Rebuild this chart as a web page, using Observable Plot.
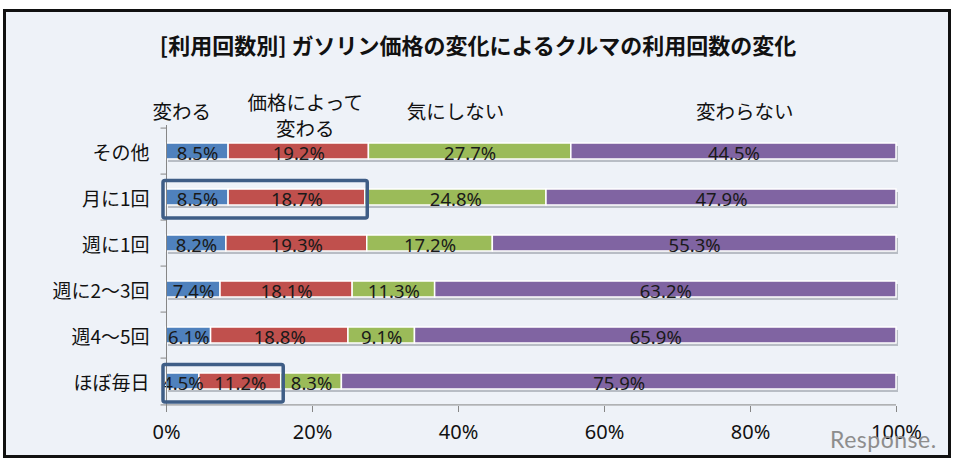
<!DOCTYPE html>
<html><head><meta charset="utf-8">
<script src="https://cdn.jsdelivr.net/npm/d3@7"></script>
<script src="https://cdn.jsdelivr.net/npm/@observablehq/plot@0.6"></script>
<style>
html,body{margin:0;padding:0;background:#fff;}
#wrap{position:relative;width:956px;height:462px;overflow:hidden;}
#frame{position:absolute;left:3px;top:9px;width:948px;height:449px;box-sizing:border-box;border:3px solid #111;background:#eef2f8;}
#title{position:absolute;left:0;top:29px;width:956px;text-align:center;font-family:"Noto Sans CJK JP",sans-serif;font-weight:bold;font-size:22px;color:#111;line-height:30px;}
#chart{position:absolute;left:0;top:0;}
#wm{position:absolute;left:830px;top:425px;font-family:Lato,sans-serif;font-size:23px;color:#8d8d8d;letter-spacing:0.5px;}
</style></head>
<body>
<div id="wrap">
  <div id="frame"></div>
  <div id="chart"></div>
  <div id="title">[利用回数別] ガソリン価格の変化によるクルマの利用回数の変化</div>
  <div id="wm">Response.</div>
</div>
<script>
const categories = ["その他", "月に1回", "週に1回", "週に2～3回", "週4～5回", "ほぼ毎日"];
const seriesNames = ["変わる", "価格によって変わる", "気にしない", "変わらない"];
const headerLabels = ["変わる", "価格によって\n変わる", "気にしない", "変わらない"];
const kawaru     = [8.5, 8.5, 8.2, 7.4, 6.1, 4.5];
const kakaku     = [19.2, 18.7, 19.3, 18.1, 18.8, 11.2];
const kiniShinai = [27.7, 24.8, 17.2, 11.3, 9.1, 8.3];
const kawaranai  = [44.5, 47.9, 55.3, 63.2, 65.9, 75.9];
const highlighted = ["月に1回", "ほぼ毎日"];
const tickValues = [0, 0.2, 0.4, 0.6, 0.8, 1];

// layout / style (not data)
const colors = ["#4f81bd", "#c0504d", "#9bbb59", "#8064a2"];
const headerX = [0.021, 0.19, 0.396, 0.792];
const band = (406 - 125) / 6;
const FONT_JP = "Noto Sans CJK JP, sans-serif";
const FONT_NUM = "Noto Sans, sans-serif";

const seriesVals = [kawaru, kakaku, kiniShinai, kawaranai];
const rows = categories.flatMap((c, i) => seriesNames.map((s, j) => ({cat: c, series: s, value: seriesVals[j][i]})));
const totals = categories.map((c, i) => seriesVals.reduce((a, v) => a + v[i], 0));
const boxes = highlighted.map(c => {
  const i = categories.indexOf(c);
  return {cat: c, end: (kawaru[i] + kakaku[i]) / totals[i]};
});
const singleHeaders = headerLabels.map((t, i) => ({t, x: headerX[i]})).filter(d => !d.t.includes("\n"));
const multiHeaders = headerLabels.map((t, i) => ({t, x: headerX[i]})).filter(d => d.t.includes("\n"));

const chart = Plot.plot({
  width: 956,
  height: 462,
  marginLeft: 166,
  marginRight: 60,
  marginTop: 125,
  marginBottom: 56,
  style: {background: "transparent", color: "#111"},
  x: {domain: [0, 1]},
  y: {domain: categories, padding: 0},
  color: {domain: seriesNames, range: colors},
  marks: [
    // shadows
    Plot.barX(categories, {y: d => d, x1: 0, x2: 1, fill: "#8d929b", fillOpacity: 0.55, insetTop: 15, insetBottom: 15, dx: 2, dy: 3}),
    // stacked bars
    Plot.barX(rows, Plot.stackX({x: "value", y: "cat", fill: "series", offset: "normalize", stroke: "white", strokeWidth: 1.5, insetTop: 15, insetBottom: 15})),
    // value labels
    Plot.text(rows, Plot.stackX({x: "value", y: "cat", z: "series", offset: "normalize", text: d => d.value.toFixed(1) + "%", fontSize: 18.5, fontFamily: FONT_NUM, fill: "#1a1a1a", dy: 2.5})),
    // y axis line
    Plot.ruleX([0], {stroke: "#868686", strokeWidth: 1}),
    // y ticks at band boundaries
    Plot.ruleY(categories, {y: d => d, x1: -0.0075, x2: 0, dy: -band / 2, stroke: "#868686"}),
    // x axis line
    Plot.ruleY([categories[categories.length - 1]], {y: d => d, x1: -0.0075, x2: 1, dy: band / 2, stroke: "#868686"}),
    Plot.axisX({ticks: tickValues, tickFormat: d => Math.round(d * 100) + "%", tickSize: 6, tickPadding: 12, fontSize: 20, fontFamily: FONT_NUM, stroke: "#868686", fill: "#111", label: null}),
    Plot.axisY({tickSize: 0, tickPadding: 17, fontSize: 19, fontFamily: FONT_JP, fill: "#111", dy: 2, label: null}),
    // highlight boxes
    Plot.barX(boxes, {y: "cat", x1: 0, x2: "end", fill: "none", stroke: "#3e5d86", strokeWidth: 3.5, rx: 2, insetTop: 6.5, insetBottom: 2, insetLeft: -3, insetRight: -2.5}),
    // headers
    Plot.text(singleHeaders, {x: "x", text: "t", frameAnchor: "top", lineAnchor: "middle", dy: -13, fontSize: 19.5, fontFamily: FONT_JP, fill: "#111"}),
    Plot.text(multiHeaders, {x: "x", text: "t", frameAnchor: "top", lineAnchor: "middle", dy: -10.5, lineHeight: 1.3, fontSize: 19.5, fontFamily: FONT_JP, fill: "#111"})
  ]
});
document.getElementById("chart").appendChild(chart);
</script>
</body></html>
